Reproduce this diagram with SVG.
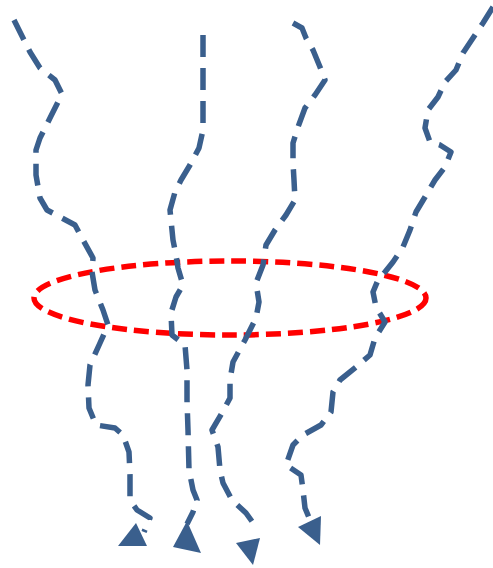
<svg xmlns="http://www.w3.org/2000/svg" width="493" height="568" viewBox="0 0 493 568">
<style>
.flow{fill:none;stroke:#3A5F8D;stroke-width:5.5;stroke-dasharray:22 11;stroke-linejoin:round}
.head{fill:#3A5F8D}
.ring{fill:none;stroke:#FF0000;stroke-width:5.5;stroke-dasharray:15 7}
</style>
<rect width="493" height="568" fill="#ffffff"/>
<g id="ring"><ellipse class="ring" cx="230" cy="298" rx="196" ry="37"/></g>
<g id="connectors">
<path class="flow" d="M14,20 L30,52 L40,68 L55,80 L62,94 L50,118 L40,138 L36,150 L36,175 L40,198 L47,210 L60,217 L75,225 L83,240 L93,258 L92,272 L95,290 L103,310 L108,325 L100,343 L90,365 L88,385 L89,408 L96,425 L115,428 L123,435 L129,452 L130,475 L130,500 L137,510 L150,518 L144,532"/>
<path class="flow" d="M203,35 L203,130 L199,148 L190,165 L181,180 L175,192 L170,210 L173,240 L176,255 L178,268 L183,285 L176,297 L171,313 L172,335 L185,345 L187,370 L187,400 L188,430 L189,470 L193,490 L197,500 L193,512 L187,524"/>
<path class="flow" d="M293,23 L302,28 L306,38 L313,50 L320,67 L325,80 L315,95 L305,108 L298,127 L293,143 L293,163 L294,180 L295,200 L286,215 L275,230 L266,245 L263,265 L256,283 L259,302 L256,318 L245,340 L233,362 L230,380 L230,398 L222,413 L212,430 L218,447 L220,470 L223,483 L232,500 L246,513 L256,527"/>
<path class="flow" d="M493,7 L483,23 L473,38 L463,53 L456,70 L445,82 L438,97 L428,110 L425,128 L430,142 L440,145 L451,152 L445,167 L435,180 L425,197 L416,212 L410,230 L403,247 L393,262 L385,272 L378,280 L373,292 L376,307 L385,322 L375,338 L370,355 L356,367 L340,380 L333,392 L331,412 L321,425 L303,435 L293,445 L286,465 L301,475 L303,490 L305,508 L310,520"/>
<polygon class="head" points="118,546 147,546 136,523"/>
<polygon class="head" points="173,547 201,553 187,521"/>
<polygon class="head" points="236,543 260,538 253,565"/>
<polygon class="head" points="298,527 321,516 320,545"/>
</g>
</svg>
